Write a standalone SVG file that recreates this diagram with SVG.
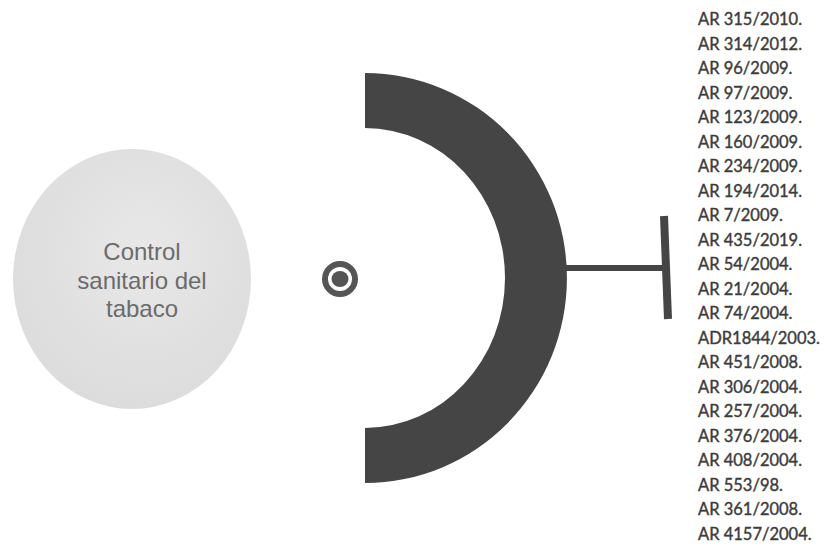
<svg xmlns="http://www.w3.org/2000/svg" width="836" height="546" viewBox="0 0 836 546">
  <style>
    .lbl { font-family: "Liberation Sans", Arial, sans-serif; font-size: 24px; fill: #6b6b6b; text-anchor: middle; }
    .item { font-family: Lato, "Open Sans", sans-serif; font-size: 16.5px; fill: #3c3c3c; stroke: #3c3c3c; stroke-width: 0.4px; }
    .dark { fill: #454545; }
    .conn { stroke: #454545; fill: none; }
  </style>
  <defs>
    <radialGradient id="gCircle" cx="0.55" cy="0.4" r="0.6">
      <stop offset="0" stop-color="#e8e8e8"/>
      <stop offset="1" stop-color="#dcdcdc"/>
    </radialGradient>
  </defs>
  <rect width="836" height="546" fill="#ffffff"/>

  <g id="node-topic">
    <ellipse cx="132" cy="279" rx="119" ry="130" fill="url(#gCircle)"/>
    <text class="lbl" x="142" y="260">Control</text>
    <text class="lbl" x="142" y="288.5">sanitario del</text>
    <text class="lbl" x="142" y="317">tabaco</text>
  </g>

  <g id="node-icon">
    <circle cx="340" cy="279" r="15" fill="none" stroke="#555555" stroke-width="6"/>
    <ellipse cx="340" cy="279" rx="8.5" ry="8" fill="#555555"/>
  </g>

  <g id="node-bracket">
    <path class="dark" d="M365 73 A202 205 0 0 1 365 483 L365 428 A140 150 0 0 0 365 128 Z"/>
  </g>

  <g id="connectors">
    <line class="conn" x1="560" y1="268" x2="664" y2="268" stroke-width="6"/>
    <line class="conn" x1="664" y1="216" x2="668" y2="319" stroke-width="8"/>
  </g>

  <g id="node-list">
    <text class="item" x="698" y="25">AR 315/2010.</text>
    <text class="item" x="698" y="49.5">AR 314/2012.</text>
    <text class="item" x="698" y="74">AR 96/2009.</text>
    <text class="item" x="698" y="98.5">AR 97/2009.</text>
    <text class="item" x="698" y="123">AR 123/2009.</text>
    <text class="item" x="698" y="147.5">AR 160/2009.</text>
    <text class="item" x="698" y="172">AR 234/2009.</text>
    <text class="item" x="698" y="196.5">AR 194/2014.</text>
    <text class="item" x="698" y="221">AR 7/2009.</text>
    <text class="item" x="698" y="245.5">AR 435/2019.</text>
    <text class="item" x="698" y="270">AR 54/2004.</text>
    <text class="item" x="698" y="294.5">AR 21/2004.</text>
    <text class="item" x="698" y="319">AR 74/2004.</text>
    <text class="item" x="698" y="343.5">ADR1844/2003.</text>
    <text class="item" x="698" y="368">AR 451/2008.</text>
    <text class="item" x="698" y="392.5">AR 306/2004.</text>
    <text class="item" x="698" y="417">AR 257/2004.</text>
    <text class="item" x="698" y="441.5">AR 376/2004.</text>
    <text class="item" x="698" y="466">AR 408/2004.</text>
    <text class="item" x="698" y="490.5">AR 553/98.</text>
    <text class="item" x="698" y="515">AR 361/2008.</text>
    <text class="item" x="698" y="539.5">AR 4157/2004.</text>
  </g>
</svg>
